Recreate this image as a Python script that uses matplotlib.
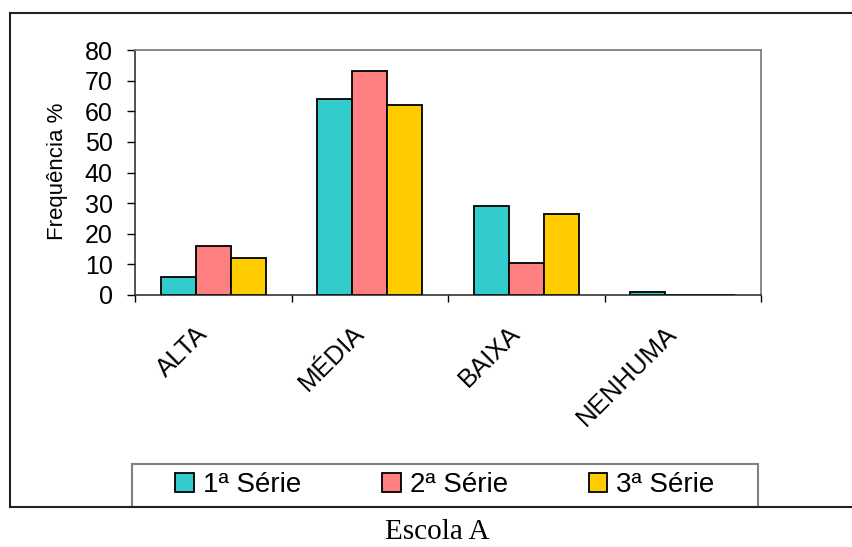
import numpy as np
import matplotlib
matplotlib.use("Agg")
import matplotlib.pyplot as plt
import matplotlib.transforms as mtransforms
from matplotlib.patches import Rectangle, Patch
from matplotlib.lines import Line2D

# dados
categorias = ["ALTA", "MÉDIA", "BAIXA", "NENHUMA"]
series = ["1ª Série", "2ª Série", "3ª Série"]
serie1 = [6, 64, 29, 1]
serie2 = [16, 73, 10.6, 0]
serie3 = [12, 62, 26.4, 0]
cores = ["#33CCCC", "#FF8080", "#FFCC00"]

plt.rcParams["font.family"] = ["Liberation Sans", "DejaVu Sans"]

W, H = 853, 547
fig = plt.figure(figsize=(W / 100, H / 100), dpi=100)
ax = fig.add_axes([135 / W, 1 - 295 / H, 626 / W, 245 / H])

x = np.arange(len(categorias))
largura = 0.224
valores = [serie1, serie2, serie3]
for i in range(3):
    ax.bar(x + (i - 1) * largura, valores[i], width=largura, color=cores[i],
           edgecolor="black", linewidth=1.3, label=series[i])

ax.set_xlim(-0.5, len(categorias) - 0.5)
ax.set_ylim(0, 80)
ax.set_yticks(np.arange(0, 81, 10))
ax.tick_params(axis="y", labelsize=18, length=6, width=1, pad=10)

ax.set_xticks(x)
ax.set_xticklabels(categorias, rotation=45, ha="right", va="top",
                   rotation_mode="anchor", fontsize=18.5)
ax.tick_params(axis="x", which="major", length=0, pad=19)
ax.set_xticks(np.arange(-0.5, len(categorias), 1), minor=True)
ax.tick_params(axis="x", which="minor", length=5, width=1)
desloca = mtransforms.ScaledTranslation(-18 / 100, 0, fig.dpi_scale_trans)
for lab in ax.get_xticklabels():
    lab.set_transform(lab.get_transform() + desloca)

for lado in ["top", "right"]:
    ax.spines[lado].set_color("#808080")
    ax.spines[lado].set_linewidth(1.3)
for lado in ["left", "bottom"]:
    ax.spines[lado].set_color("#222222")
    ax.spines[lado].set_linewidth(1.1)

fig.text(58 / W, 1 - 171 / H, "Frequência %", rotation=90, fontsize=16,
         ha="center", va="center")

# legenda
handles = [Patch(facecolor=cores[i], edgecolor="black", linewidth=1.3) for i in range(3)]
fig.legend(handles, series, loc="center", ncol=3, frameon=False, fontsize=20,
           bbox_to_anchor=(445 / W, 1 - 485 / H), handlelength=0.68,
           handleheight=0.68, handletextpad=0.32, columnspacing=2.9)
fig.add_artist(Rectangle((132 / W, 1 - 507 / H), (758 - 132) / W, 43 / H,
                         transform=fig.transFigure, fill=False,
                         edgecolor="#808080", linewidth=1.5))

# moldura externa
for xs, ys in [([10 / W, 10 / W], [1 - 13 / H, 1 - 507 / H]),
               ([10 / W, 1.0], [1 - 13 / H, 1 - 13 / H]),
               ([10 / W, 1.0], [1 - 507 / H, 1 - 507 / H])]:
    fig.add_artist(Line2D(xs, ys, transform=fig.transFigure, color="#222222", linewidth=1.5))

fig.text(437 / W, 1 - 532 / H, "Escola A", fontsize=21, ha="center", va="center",
         family=["Liberation Serif", "DejaVu Serif"])

fig.savefig("out.png", dpi=100)
